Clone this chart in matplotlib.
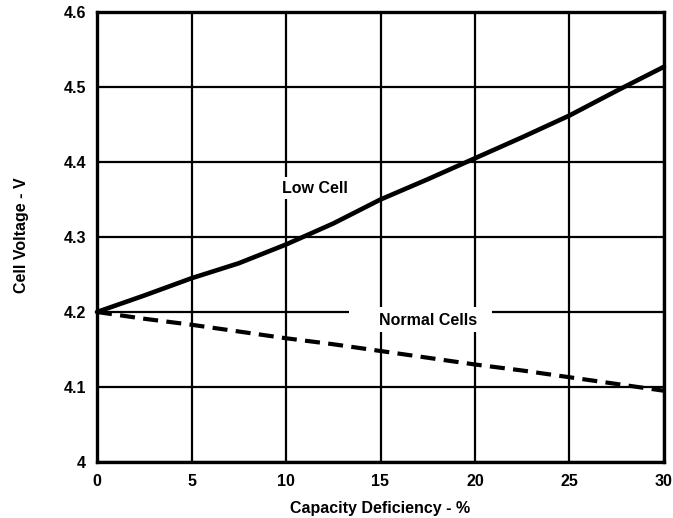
import numpy as np
import matplotlib.pyplot as plt
from matplotlib.patches import Rectangle
plt.rcParams['font.family'] = ['Liberation Sans', 'DejaVu Sans']
plt.rcParams['font.weight'] = 'bold'

# capacity deficiency (%)
deficiency = [0, 2.5, 5, 7.5, 10, 12.5, 15, 17.5, 20, 22.5, 25, 27.5, 30]
low_cell = [4.200, 4.222, 4.245, 4.265, 4.290, 4.318, 4.350, 4.377, 4.405, 4.433, 4.462, 4.495, 4.527]
normal_cells = [4.200, 4.191, 4.183, 4.174, 4.165, 4.157, 4.148, 4.139, 4.130, 4.122, 4.113, 4.104, 4.095]

x_ticks = [0, 5, 10, 15, 20, 25, 30]
y_ticks = [4.0, 4.1, 4.2, 4.3, 4.4, 4.5, 4.6]
y_labels = ['4', '4.1', '4.2', '4.3', '4.4', '4.5', '4.6']

fig = plt.figure(figsize=(6.73, 5.18), dpi=100)
ax = fig.add_axes([97/673, 1 - 462/518, (664-97)/673, (462-12)/518])

ax.set_xlim(0, 30)
ax.set_ylim(4.0, 4.6)
ax.set_xticks(x_ticks)
ax.set_yticks(y_ticks)
ax.set_yticklabels(y_labels)
ax.grid(True, color='black', linewidth=1.6)
ax.set_axisbelow(True)
for s in ax.spines.values():
    s.set_linewidth(2.4)
    s.set_zorder(5)
ax.tick_params(length=0, labelsize=11.5)
ax.tick_params(axis='x', pad=9)
ax.tick_params(axis='y', pad=8)
for lab in ax.get_xticklabels() + ax.get_yticklabels():
    lab.set_fontweight('bold')

ax.plot(deficiency, low_cell, color='black', linewidth=3.3, solid_capstyle='round',
        clip_on=False, zorder=6)
ax.plot(deficiency, normal_cells, color='black', linewidth=3.0, dashes=(3.6, 2.0), zorder=3)

ax.text(9.79, 4.365, 'Low Cell', fontsize=11.5, fontweight='bold', va='center', ha='left',
        bbox=dict(facecolor='white', edgecolor='none', pad=2.5), zorder=4)

# white gap behind the "Normal Cells" label
ax.add_patch(Rectangle((13.33, 4.173), 7.57, 0.034, facecolor='white', edgecolor='none', zorder=2.5))
ax.text(14.92, 4.189, 'Normal Cells', fontsize=11.5, fontweight='bold', va='center', ha='left',
        zorder=4)

ax.set_xlabel('Capacity Deficiency - %', fontsize=11.5, fontweight='bold', va='baseline')
ax.xaxis.set_label_coords(0.5, -0.1135)
ax.set_ylabel('Cell Voltage - V', fontsize=11.5, fontweight='bold', va='center')
ax.yaxis.set_label_coords(-0.134, 0.504)

fig.savefig('out.png', dpi=100)
